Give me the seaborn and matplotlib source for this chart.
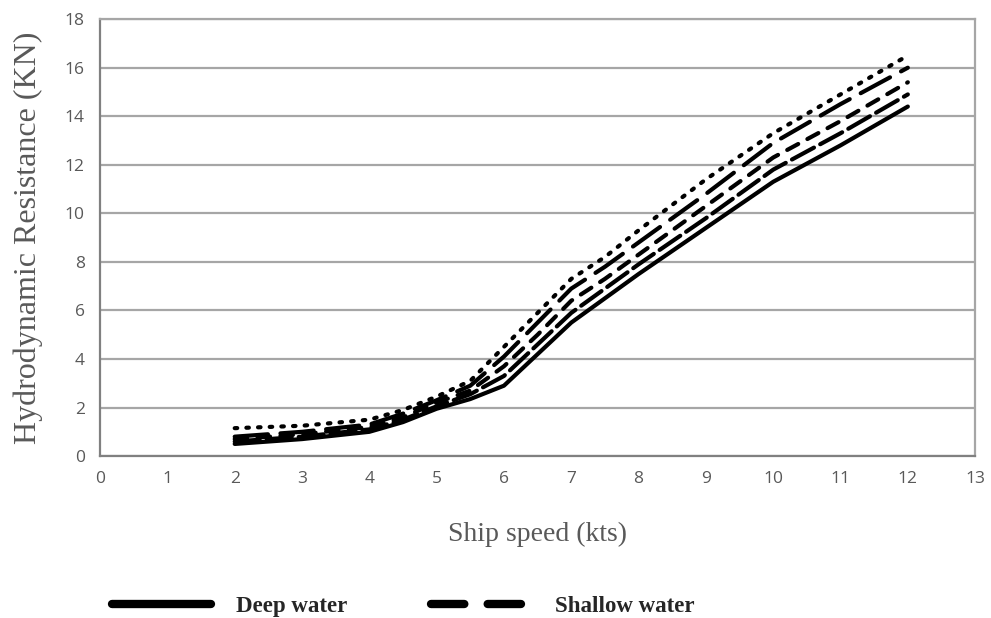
import pandas as pd
import seaborn as sns
import matplotlib.pyplot as plt
from matplotlib.lines import Line2D

# =============================================================================
# Data
# =============================================================================

speed = [2, 3, 4, 4.5, 5, 5.5, 6, 6.5, 7, 7.5, 8, 9, 10, 11, 12]

deep_water = [0.5, 0.7, 1.0, 1.4, 1.95, 2.35, 2.9, 4.2, 5.5, 6.5, 7.5, 9.4, 11.3, 12.8, 14.4]
shallow_1 = [0.6, 0.8, 1.1, 1.5, 2.05, 2.55, 3.3, 4.6, 5.9, 6.9, 7.9, 9.8, 11.8, 13.3, 14.9]
shallow_2 = [0.7, 0.9, 1.2, 1.6, 2.2, 2.7, 3.7, 5.0, 6.4, 7.3, 8.3, 10.3, 12.3, 13.8, 15.4]
shallow_3 = [0.8, 1.0, 1.3, 1.75, 2.3, 2.9, 4.1, 5.5, 6.9, 7.8, 8.8, 10.8, 12.9, 14.5, 16.0]
shallow_4 = [1.15, 1.25, 1.5, 1.9, 2.45, 3.1, 4.5, 5.9, 7.3, 8.2, 9.3, 11.4, 13.3, 14.9, 16.5]

series = {
    "Deep water": deep_water,
    "Shallow 1": shallow_1,
    "Shallow 2": shallow_2,
    "Shallow 3": shallow_3,
    "Shallow 4": shallow_4,
}

df = pd.concat(
    [pd.DataFrame({"Speed": speed, "Resistance": vals, "Case": name})
     for name, vals in series.items()],
    ignore_index=True
)

# =============================================================================
# Plot
# =============================================================================

sns.set_style("white")

grey = "#595959"
grid_grey = "#a6a6a6"
axis_grey = "#808080"

dash_map = {
    "Deep water": "",
    "Shallow 1": (6, 1.7),
    "Shallow 2": (3, 2.5),
    "Shallow 3": (8, 3),
    "Shallow 4": (0.6, 2.2),
}

fig = plt.figure(figsize=(9.91, 6.18), dpi=100)
ax = fig.add_axes([0.101, 0.262, 0.883, 0.707])

sns.lineplot(
    data=df,
    x="Speed",
    y="Resistance",
    style="Case",
    dashes=dash_map,
    color="black",
    linewidth=3,
    legend=False,
    ax=ax
)

for line in ax.get_lines():
    line.set_dash_capstyle("round")
    line.set_solid_capstyle("round")
    line.set_solid_joinstyle("round")
    line.set_dash_joinstyle("round")

ax.set_xlim(0, 13)
ax.set_ylim(0, 18)
ax.set_xticks(range(0, 14))
ax.set_yticks(range(0, 19, 2))

ax.grid(axis="y", color=grid_grey, linewidth=1.6)
ax.grid(axis="x", visible=False)
ax.set_axisbelow(True)

for spine in ax.spines.values():
    spine.set_visible(True)
    spine.set_color(grid_grey)
    spine.set_linewidth(1.6)
ax.spines["left"].set_color(axis_grey)
ax.spines["bottom"].set_color(axis_grey)

ax.tick_params(axis="x", direction="out", length=5, width=1.2, color=axis_grey, pad=6)
ax.tick_params(axis="y", direction="inout", length=8, width=1.2, color=axis_grey, pad=7)
for lab in ax.get_xticklabels() + ax.get_yticklabels():
    lab.set_fontfamily("Open Sans")
    lab.set_fontsize(12.5)
    lab.set_color(grey)

ax.set_xlabel("Ship speed (kts)", fontfamily="Liberation Serif", fontsize=20,
              color=grey, labelpad=25)
ax.set_ylabel("Hydrodynamic Resistance (KN)", fontfamily="Liberation Serif",
              fontsize=23, color=grey, labelpad=16)

handles = [
    Line2D([0], [0], color="black", linewidth=6, solid_capstyle="round"),
    Line2D([0], [0], color="black", linewidth=6, dashes=(4.0, 2.8),
           dash_capstyle="round"),
]

fig.legend(
    handles,
    ["Deep water", "Shallow water"],
    loc="center left",
    bbox_to_anchor=(0.092, 0.018),
    ncol=2,
    frameon=False,
    handlelength=4.35,
    handletextpad=1.07,
    columnspacing=3.65,
    prop={"family": "Liberation Serif", "weight": "bold", "size": 16.5}
)

plt.savefig("out.png", dpi=100)
